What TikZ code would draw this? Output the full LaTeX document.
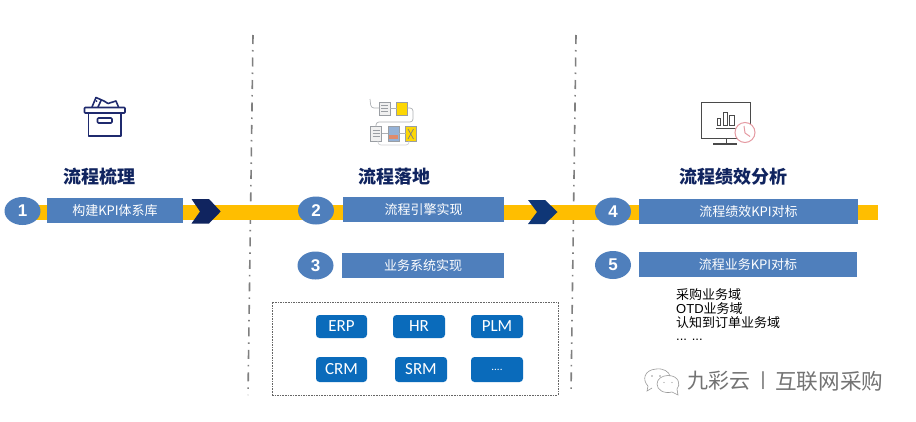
\documentclass[tikz,border=0pt]{standalone}
\usepackage{fontspec}
\setmainfont{Liberation Sans}
\newfontfamily\cjk{Noto Sans CJK SC}
\newfontfamily\cari{Carlito}
\definecolor{stepblue}{HTML}{4F7FBC}
\definecolor{barYellow}{HTML}{FFBE00}
\definecolor{titleNavy}{HTML}{10245F}
\definecolor{sysBlue}{HTML}{0A6BBB}
\definecolor{divGray}{HTML}{7F7F7F}
\definecolor{iconNavy}{HTML}{1F2A6E}
\definecolor{iconGray}{HTML}{4A4A4A}
\definecolor{iconPink}{HTML}{E59AA2}
\definecolor{docGray}{HTML}{9A9EA3}
\tikzset{
  x=1pt,y=-1pt,
  bar/.style={fill=barYellow,draw=none,inner sep=0pt,minimum height=15pt},
  num/.style={ellipse,fill=stepblue,draw=none,inner sep=0pt,minimum width=36pt,minimum height=28pt,text=white,font=\fontsize{17}{17}\selectfont\bfseries},
  lab/.style={fill=stepblue,draw=none,inner sep=0pt,minimum height=25pt,text=white,font=\fontsize{13}{13}\cjk},
  head/.style={text=titleNavy,inner sep=0pt,font=\fontsize{18}{18}\cjk\bfseries},
  sys/.style={fill=sysBlue,draw=none,rounded corners=3.5pt,inner sep=0pt,minimum width=52pt,text=white,font=\fontsize{17}{17}\cari},
  divider/.style={divGray,line width=1.6pt,dash pattern=on 9pt off 6pt on 1.5pt off 6pt},
  doc/.style={draw=docGray,line width=.7pt},
  flow/.style={draw=docGray!80,line width=.7pt,rounded corners=3pt},
  listline/.style={anchor=west,inner sep=0pt,font=\fontsize{13}{13}\cjk},
}
\usetikzlibrary{shapes.geometric}
\begin{document}
\begin{tikzpicture}
\useasboundingbox[fill=white] (0,0) rectangle (916,421);
% dividers
\coordinate (d1t) at (253,35); \coordinate (d1b) at (248,395);
\coordinate (d2t) at (576,35); \coordinate (d2b) at (571,393);
\draw[divider] (d1t) -- (d1b);
\draw[divider] (d2t) -- (d2b);
% bar
\node[bar,minimum width=843pt] (bar) at (456.5,212.5) {};
% chevrons
\fill[fill=titleNavy] (191.5,199) -- (209,199) -- (220.7,211.5) -- (209,223.5) -- (191.5,223.5) -- (200,211.5) -- cycle;
\fill[fill=titleNavy!75!sysBlue] (528,200) -- (545,200) -- (557.5,212) -- (545,224) -- (528,224) -- (537,212) -- cycle;
% heads
\node[head] (h1) at (99,177) {流程梳理};
\node[head] (h2) at (394,177) {流程落地};
\node[head] (h3) at (733.5,177) {流程绩效分析};
% steps
\node[num] (n1) at (22.5,211) {1};
\node[lab,minimum width=136pt] (l1) at (115,210.5) {构建KPI体系库};
\node[num] (n2) at (316,210.5) {2};
\node[lab,minimum width=161pt] (l2) at (423.5,209.5) {流程引擎实现};
\node[num] (n3) at (315.5,265.5) {3};
\node[lab,minimum width=162pt] (l3) at (423,265.5) {业务系统实现};
\node[num] (n4) at (613,211.5) {4};
\node[lab,minimum width=219pt] (l4) at (748.5,211.5) {流程绩效KPI对标};
\node[num] (n5) at (613,265) {5};
\node[lab,minimum width=218pt] (l5) at (748,264.5) {流程业务KPI对标};
% systems frame
\node[draw=black!60,dash pattern=on 1.6pt off 1pt,line width=.6pt,minimum width=286pt,minimum height=93pt,inner sep=0pt] (frame) at (415,348.5) {};
\node[sys,minimum height=23pt,minimum width=51pt] (erp) at (341.5,326.5) {ERP};
\node[sys,minimum height=23pt] (hr) at (419,326.5) {HR};
\node[sys,minimum height=23pt] (plm) at (497,326.5) {PLM};
\node[sys,minimum height=25pt,minimum width=51pt] (crm) at (341.5,369.5) {CRM};
\node[sys,minimum height=25pt] (srm) at (421,369.5) {SRM};
\node[sys,minimum height=25pt] (more) at (497,369.5) {\fontsize{11}{11}\selectfont ....};
% list
\node[listline] (t1) at (676,295) {采购业务域};
\node[listline] (t2) at (676,309) {{\rmfamily OTD}业务域};
\node[listline] (t3) at (676,323) {认知到订单业务域};
\node[listline,font=\fontsize{13}{13}\rmfamily] (t4) at (676,340) {... ...};
% watermark
\node[anchor=west,inner sep=0pt,text=black!55,font=\fontsize{21}{21}\cjk] (w1) at (687,381) {九彩云};
\node[inner sep=0pt,text=black!55,font=\fontsize{19}{19}\rmfamily] (w2) at (763,381) {|};
\node[anchor=west,inner sep=0pt,text=black!55,font=\fontsize{21.6}{22}\cjk] (w3) at (775,381) {互联网采购};
% wechat icon
\begin{scope}[draw=black!40,line width=.6pt]
\draw (648,386) .. controls (642,380) and (644,370) .. (656,369) .. controls (664,368) and (669,372) .. (670,376);
\draw (648,386) -- (647,391) -- (652,388);
\draw (668,375.5) .. controls (679,375.5) and (681,385) .. (677,389) -- (678,395) -- (672,392) .. controls (664,394) and (657,390) .. (657,384) .. controls (657,379) and (662,375.5) .. (668,375.5);
\fill[black!40] (652,376) circle (.8) (660,376) circle (.8) (664,382.5) circle (.7) (672,382.5) circle (.7);
\end{scope}
% box icon
\begin{scope}[draw=iconNavy,line width=1.6pt,line join=round]
\draw[rounded corners=.8pt] (84.5,107.5) rectangle (125,113);
\draw (88.5,113) -- (88.5,136) -- (121,136) -- (121,113);
\draw[rounded corners=1pt] (97.5,118) rectangle (112,123);
\draw (92,107) -- (96,97.5) -- (104,101) -- (108,103.5) -- (116,101) -- (118.5,107);
\draw (101.5,99.5) -- (98,107);
\fill[iconNavy] (96.5,101) circle (1);
\end{scope}
% flow icon
\filldraw[doc,fill=black!6] (379.5,102) rectangle (390,115);
\filldraw[doc,fill=yellow!75!orange] (396.5,102) rectangle (407,115);
\filldraw[doc,fill=black!6] (370.5,126.5) rectangle (381.5,141);
\filldraw[doc,fill=stepblue!60] (388,126.5) rectangle (399,141);
\fill[brown!70!red!70] (389,135) rectangle (398,139);
\filldraw[doc,fill=yellow!75!orange] (405.5,126.5) rectangle (416,141);
\draw[iconGray!70,line width=.7pt] (408,129) -- (413.5,139) (413.5,129) -- (408,139);
\foreach \yy in {105,108,111} {\draw[docGray,line width=.6pt] (381,\yy) -- (388,\yy);}
\foreach \yy in {130,133,136} {\draw[docGray,line width=.6pt] (372.5,\yy) -- (379.5,\yy);}
\draw[flow] (370,99) -- (371,108) -- (379.5,108);
\draw[flow] (390,108) -- (396.5,108);
\draw[flow] (407,108) -- (413,108) -- (413,122) -- (376,122) -- (376,126.5);
\draw[flow] (381.5,133.5) -- (388,133.5);
\draw[flow] (399,133.5) -- (405.5,133.5);
\draw[flow,draw=docGray!45] (378,141) -- (378,145) -- (409,145) -- (409,141);
% monitor icon
\begin{scope}[draw=iconGray,line width=1pt]
\draw (701,102.5) rectangle (750.5,138.5);
\draw (726,138.5) -- (726,144);
\draw[line width=1.2pt] (713,144) -- (737,144);
\draw (717,125) rectangle (720.5,118.5);
\draw (723.5,125) rectangle (727,112);
\draw (729.5,125) rectangle (734,115);
\draw[line width=1.2pt] (716,128.5) -- (737,128.5);
\end{scope}
\filldraw[draw=iconPink,fill=white,line width=1pt] (745,132.5) circle (10);
\draw[iconPink,line width=1pt] (744,126) -- (745,133) -- (750,136.5);
\end{tikzpicture}
\end{document}
